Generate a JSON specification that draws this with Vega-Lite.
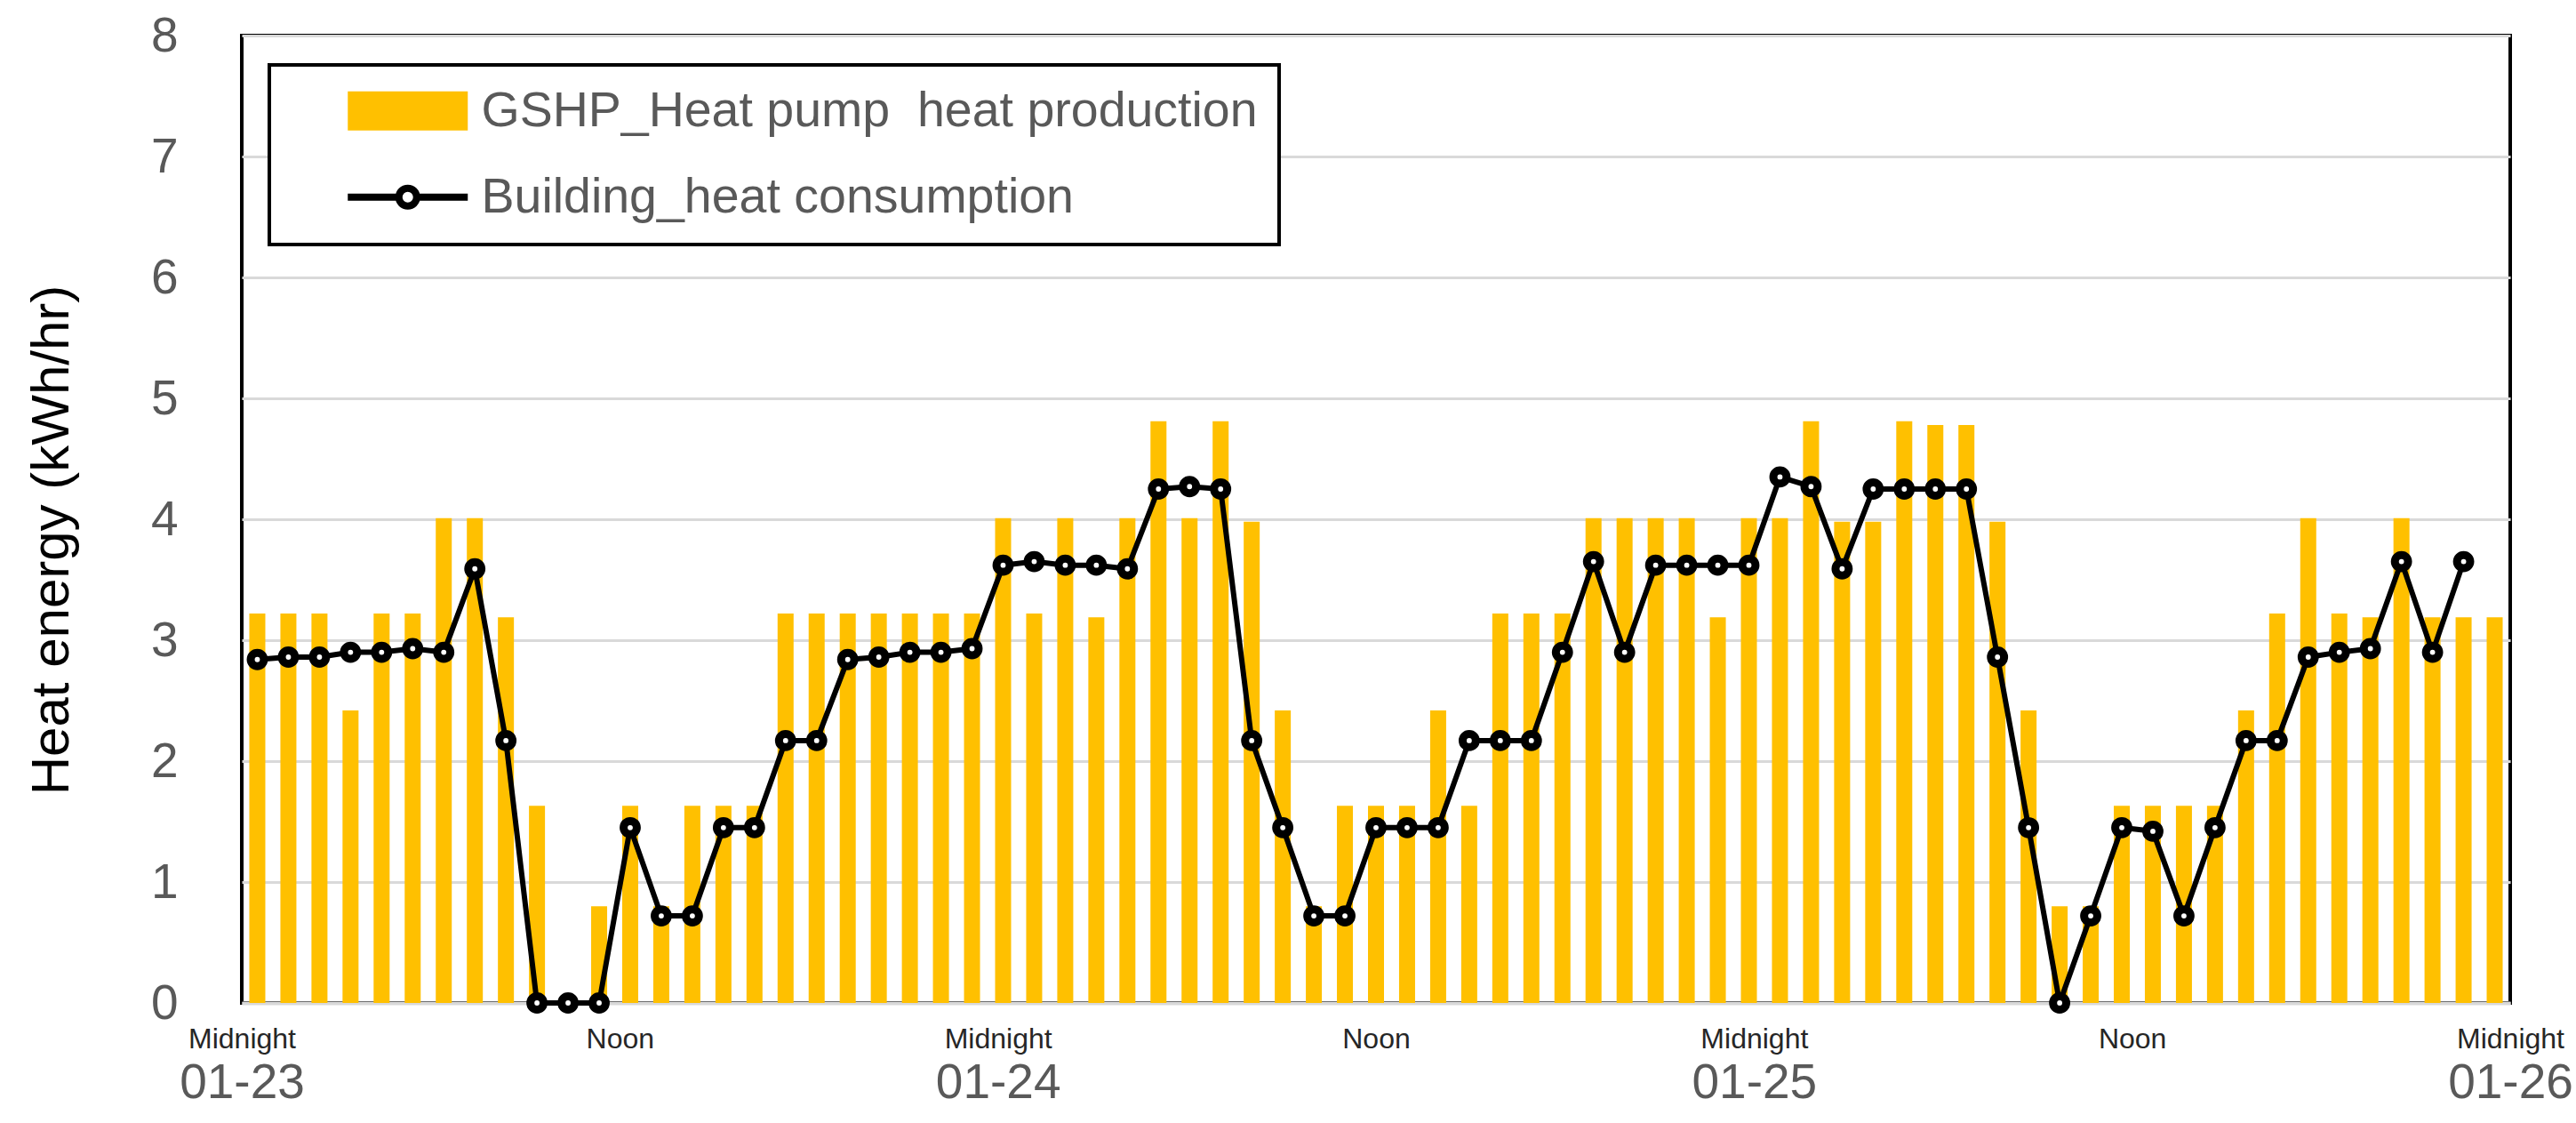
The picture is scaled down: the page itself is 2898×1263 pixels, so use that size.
{
  "$schema": "https://vega.github.io/schema/vega-lite/v6.json",
  "width": 2552,
  "height": 1088,
  "autosize": {"type": "none"},
  "padding": {"left": 272, "top": 40, "right": 74, "bottom": 135},
  "background": "white",
  "config": {
    "font": "Liberation Sans",
    "view": {"stroke": "black", "strokeWidth": 4}
  },
  "datasets": {
    "hourly": [
      {"hour": 0, "gshp": 3.22, "building": 2.84},
      {"hour": 1, "gshp": 3.22, "building": 2.86},
      {"hour": 2, "gshp": 3.22, "building": 2.86},
      {"hour": 3, "gshp": 2.42, "building": 2.90},
      {"hour": 4, "gshp": 3.22, "building": 2.90},
      {"hour": 5, "gshp": 3.22, "building": 2.93},
      {"hour": 6, "gshp": 4.01, "building": 2.90},
      {"hour": 7, "gshp": 4.01, "building": 3.59},
      {"hour": 8, "gshp": 3.19, "building": 2.17},
      {"hour": 9, "gshp": 1.63, "building": 0},
      {"hour": 10, "gshp": 0, "building": 0},
      {"hour": 11, "gshp": 0.80, "building": 0},
      {"hour": 12, "gshp": 1.63, "building": 1.45},
      {"hour": 13, "gshp": 0.80, "building": 0.72},
      {"hour": 14, "gshp": 1.63, "building": 0.72},
      {"hour": 15, "gshp": 1.63, "building": 1.45},
      {"hour": 16, "gshp": 1.63, "building": 1.45},
      {"hour": 17, "gshp": 3.22, "building": 2.17},
      {"hour": 18, "gshp": 3.22, "building": 2.17},
      {"hour": 19, "gshp": 3.22, "building": 2.84},
      {"hour": 20, "gshp": 3.22, "building": 2.86},
      {"hour": 21, "gshp": 3.22, "building": 2.90},
      {"hour": 22, "gshp": 3.22, "building": 2.90},
      {"hour": 23, "gshp": 3.22, "building": 2.93},
      {"hour": 24, "gshp": 4.01, "building": 3.62},
      {"hour": 25, "gshp": 3.22, "building": 3.65},
      {"hour": 26, "gshp": 4.01, "building": 3.62},
      {"hour": 27, "gshp": 3.19, "building": 3.62},
      {"hour": 28, "gshp": 4.01, "building": 3.59},
      {"hour": 29, "gshp": 4.81, "building": 4.25},
      {"hour": 30, "gshp": 4.01, "building": 4.27},
      {"hour": 31, "gshp": 4.81, "building": 4.25},
      {"hour": 32, "gshp": 3.98, "building": 2.17},
      {"hour": 33, "gshp": 2.42, "building": 1.45},
      {"hour": 34, "gshp": 0.80, "building": 0.72},
      {"hour": 35, "gshp": 1.63, "building": 0.72},
      {"hour": 36, "gshp": 1.63, "building": 1.45},
      {"hour": 37, "gshp": 1.63, "building": 1.45},
      {"hour": 38, "gshp": 2.42, "building": 1.45},
      {"hour": 39, "gshp": 1.63, "building": 2.17},
      {"hour": 40, "gshp": 3.22, "building": 2.17},
      {"hour": 41, "gshp": 3.22, "building": 2.17},
      {"hour": 42, "gshp": 3.22, "building": 2.90},
      {"hour": 43, "gshp": 4.01, "building": 3.65},
      {"hour": 44, "gshp": 4.01, "building": 2.90},
      {"hour": 45, "gshp": 4.01, "building": 3.62},
      {"hour": 46, "gshp": 4.01, "building": 3.62},
      {"hour": 47, "gshp": 3.19, "building": 3.62},
      {"hour": 48, "gshp": 4.01, "building": 3.62},
      {"hour": 49, "gshp": 4.01, "building": 4.35},
      {"hour": 50, "gshp": 4.81, "building": 4.27},
      {"hour": 51, "gshp": 3.98, "building": 3.59},
      {"hour": 52, "gshp": 3.98, "building": 4.25},
      {"hour": 53, "gshp": 4.81, "building": 4.25},
      {"hour": 54, "gshp": 4.78, "building": 4.25},
      {"hour": 55, "gshp": 4.78, "building": 4.25},
      {"hour": 56, "gshp": 3.98, "building": 2.86},
      {"hour": 57, "gshp": 2.42, "building": 1.45},
      {"hour": 58, "gshp": 0.80, "building": 0},
      {"hour": 59, "gshp": 0.80, "building": 0.72},
      {"hour": 60, "gshp": 1.63, "building": 1.45},
      {"hour": 61, "gshp": 1.63, "building": 1.42},
      {"hour": 62, "gshp": 1.63, "building": 0.72},
      {"hour": 63, "gshp": 1.63, "building": 1.45},
      {"hour": 64, "gshp": 2.42, "building": 2.17},
      {"hour": 65, "gshp": 3.22, "building": 2.17},
      {"hour": 66, "gshp": 4.01, "building": 2.86},
      {"hour": 67, "gshp": 3.22, "building": 2.90},
      {"hour": 68, "gshp": 3.19, "building": 2.93},
      {"hour": 69, "gshp": 4.01, "building": 3.65},
      {"hour": 70, "gshp": 3.19, "building": 2.90},
      {"hour": 71, "gshp": 3.19, "building": 3.65},
      {"hour": 72, "gshp": 3.19, "building": null}
    ],
    "ticks": [
      {"hour": 0}, {"hour": 12}, {"hour": 24}, {"hour": 36}, {"hour": 48}, {"hour": 60}, {"hour": 72}
    ]
  },
  "layer": [
    {
      "data": {"name": "hourly"},
      "encoding": {
        "x": {
          "field": "hour", "type": "ordinal",
          "scale": {"paddingInner": 0.485, "paddingOuter": 0.2425},
          "axis": null
        }
      },
      "layer": [
        {
          "mark": {"type": "bar"},
          "encoding": {
            "y": {
              "field": "gshp", "type": "quantitative",
              "scale": {"domain": [0, 8], "nice": false},
              "title": "Heat energy (kWh/hr)",
              "axis": {
                "values": [0, 1, 2, 3, 4, 5, 6, 7, 8],
                "format": "d",
                "labelFontSize": 55,
                "labelColor": "#595959",
                "labelPadding": 72,
                "ticks": false,
                "tickSize": 0,
                "domain": false,
                "grid": true,
                "gridColor": "#d9d9d9",
                "gridWidth": 3,
                "titleFontSize": 60,
                "titleFontWeight": "normal",
                "titleColor": "black",
                "titlePadding": 80,
                "titleY": 567
              }
            },
            "fill": {
              "datum": "GSHP_Heat pump  heat production",
              "type": "nominal",
              "scale": {
                "domain": ["GSHP_Heat pump  heat production", "Building_heat consumption"],
                "range": ["#FFC000", "white"]
              },
              "legend": {
                "title": null,
                "orient": "none",
                "legendX": 31,
                "legendY": 33,
                "direction": "vertical",
                "padding": 24,
                "rowPadding": 40,
                "fillColor": "white",
                "strokeColor": "black",
                "symbolSize": 2500,
                "symbolOffset": 104,
                "labelOffset": 55,
                "labelFontSize": 55.5,
                "labelColor": "#595959",
                "labelLimit": 3000,
                "labelExpr": "replace(datum.label, '  ', ' \u00a0') + '\u00a0'",
                "encode": {
                  "legend": {"update": {"strokeWidth": {"value": 4}}},
                  "symbols": {
                    "update": {
                      "shape": {"signal": "datum.value == 'Building_heat consumption' ? 'M-2.7,0H-0.4M0.4,0H2.7M0.4,0A0.4,0.4,0,1,1,-0.4,0A0.4,0.4,0,1,1,0.4,0' : 'M-2.7,-0.88H2.7V0.88H-2.7Z'"},
                      "stroke": {"signal": "datum.value == 'Building_heat consumption' ? 'black' : 'transparent'"},
                      "strokeWidth": {"signal": "datum.value == 'Building_heat consumption' ? 8 : 0"},
                      "opacity": {"value": 1},
                      "fillOpacity": {"value": 1},
                      "strokeOpacity": {"value": 1}
                    }
                  }
                }
              }
            }
          }
        },
        {
          "mark": {"type": "line", "color": "black", "strokeWidth": 6},
          "encoding": {
            "y": {"field": "building", "type": "quantitative", "title": "Heat energy (kWh/hr)"}
          }
        },
        {
          "mark": {"type": "point", "filled": false, "fill": "white", "stroke": "black", "fillOpacity": 1, "opacity": 1, "size": 220, "strokeWidth": 9},
          "encoding": {
            "y": {"field": "building", "type": "quantitative", "title": "Heat energy (kWh/hr)"}
          }
        }
      ]
    },
    {
      "data": {"name": "ticks"},
      "mark": {"type": "rule", "opacity": 0},
      "encoding": {
        "x": {
          "field": "hour", "type": "quantitative",
          "scale": {"domain": [0, 72], "nice": false, "zero": false},
          "axis": {
            "orient": "bottom",
            "values": [0, 12, 24, 36, 48, 60, 72],
            "labelExpr": "datum.value % 24 == 0 ? 'Midnight' : 'Noon'",
            "labelFontSize": 32,
            "labelColor": "#262626",
            "labelPadding": 25,
            "labelFlush": false,
            "labelOverlap": false,
            "labelBound": false,
            "ticks": false,
            "tickSize": 0,
            "grid": false,
            "domain": true,
            "domainColor": "#d9d9d9",
            "domainWidth": 4,
            "title": null
          }
        }
      }
    },
    {
      "data": {"name": "ticks"},
      "mark": {"type": "rule", "opacity": 0},
      "encoding": {
        "x": {
          "field": "hour", "type": "quantitative",
          "scale": {"domain": [0, 72], "nice": false, "zero": false},
          "axis": {
            "orient": "bottom",
            "values": [0, 24, 48, 72],
            "labelExpr": "'01-' + (23 + datum.value / 24)",
            "labelFontSize": 55,
            "labelColor": "#595959",
            "labelPadding": 63,
            "labelFlush": false,
            "labelOverlap": false,
            "labelBound": false,
            "ticks": false,
            "tickSize": 0,
            "grid": false,
            "domain": false,
            "title": null
          }
        }
      }
    }
  ],
  "resolve": {"scale": {"x": "independent"}, "axis": {"x": "independent"}}
}
